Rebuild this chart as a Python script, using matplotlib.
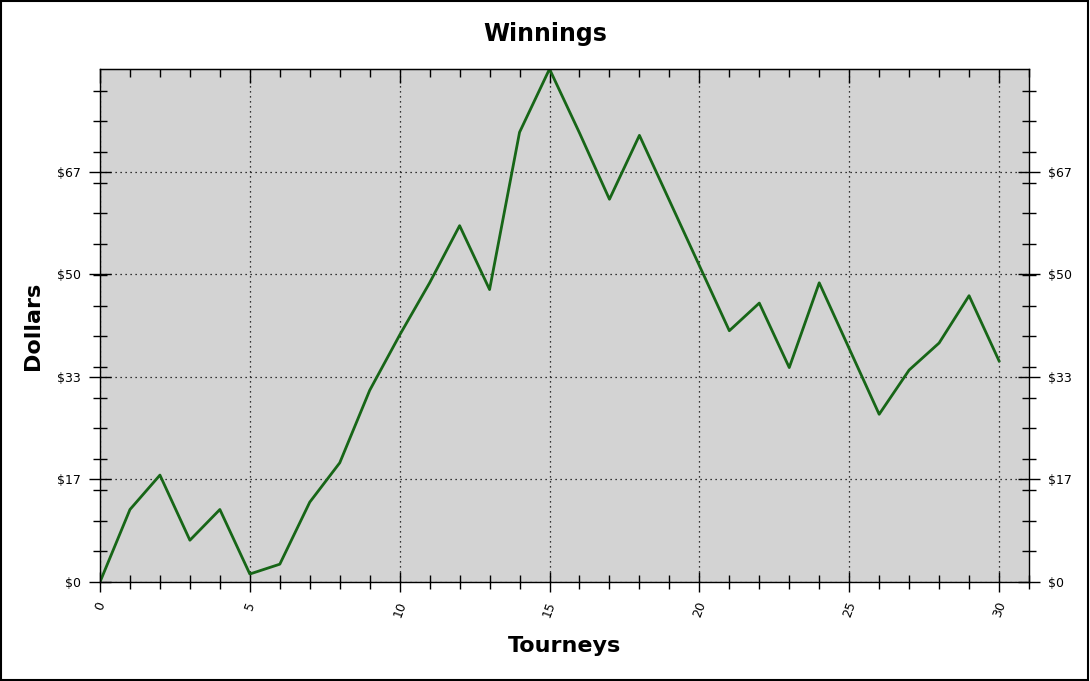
import matplotlib
matplotlib.use("Agg")
import matplotlib.pyplot as plt
from matplotlib.ticker import MultipleLocator, FixedLocator
from matplotlib.patches import Rectangle

# === Data ===
tourneys = list(range(31))
winnings = [0, 11.8, 17.4, 6.8, 11.8, 1.3, 2.9, 13.0, 19.4, 31.2,
            40.2, 48.7, 58.0, 47.6, 73.2, 83.5, 73.1, 62.3, 72.7, 62.1,
            51.5, 40.9, 45.4, 34.9, 48.7, 38.0, 27.3, 34.5, 38.9, 46.6,
            36.0]
y_ticks = [0, 16.7, 33.4, 50.1, 66.8]
y_labels = ["$0", "$17", "$33", "$50", "$67"]
x_ticks = [0, 5, 10, 15, 20, 25, 30]

plt.rcParams['font.family'] = 'DejaVu Sans'

fig = plt.figure(figsize=(10.9, 6.81), dpi=100)
ax = fig.add_axes([100 / 1090, 99 / 681, 929 / 1090, 513 / 681])
ax.set_facecolor("#d3d3d3")

ax.plot(tourneys, winnings, color="#176617", linewidth=2)

ax.set_xlim(0, 31)
ax.set_ylim(0, 83.5)

# x axis ticks
ax.xaxis.set_major_locator(FixedLocator(x_ticks))
ax.xaxis.set_minor_locator(MultipleLocator(1))
ax.set_xticklabels([str(v) for v in x_ticks], rotation=70, fontsize=9,
                   ha="center", va="top")
ax.tick_params(axis="x", which="major", direction="inout", length=14, width=1, pad=6)
ax.tick_params(axis="x", which="minor", direction="inout", length=10, width=1)

# y axis ticks, both sides
ax.yaxis.set_major_locator(FixedLocator(y_ticks))
ax.yaxis.set_minor_locator(MultipleLocator(5))
ax.set_yticklabels(y_labels, fontsize=9)
ax.tick_params(axis="y", which="both", left=True, right=True,
               labelleft=True, labelright=True, direction="inout")
ax.tick_params(axis="y", which="major", length=16, width=1, pad=6)
ax.tick_params(axis="y", which="minor", length=10, width=1)

# top ticks pointing inwards
top = ax.secondary_xaxis("top")
top.xaxis.set_major_locator(FixedLocator(x_ticks))
top.xaxis.set_minor_locator(MultipleLocator(1))
top.tick_params(which="major", direction="in", length=10, width=1, labeltop=False)
top.tick_params(which="minor", direction="in", length=6, width=1)

ax.grid(True, which="major", color="black", linestyle=(0, (1, 3)), linewidth=0.9)

for s in ax.spines.values():
    s.set_linewidth(1)

fig.suptitle("Winnings", x=0.5, y=1 - 34 / 681, va="center",
             fontsize=17, fontweight="bold")
ax.set_xlabel("Tourneys", fontsize=16, fontweight="bold", labelpad=12)
ax.set_ylabel("Dollars", fontsize=16, fontweight="bold", labelpad=10)

# border around figure
fig.patches.append(Rectangle((0.0005, 0.0008), 0.998, 0.998, transform=fig.transFigure,
                             fill=False, edgecolor="black", linewidth=1.5))

fig.savefig("out.png", dpi=100)
